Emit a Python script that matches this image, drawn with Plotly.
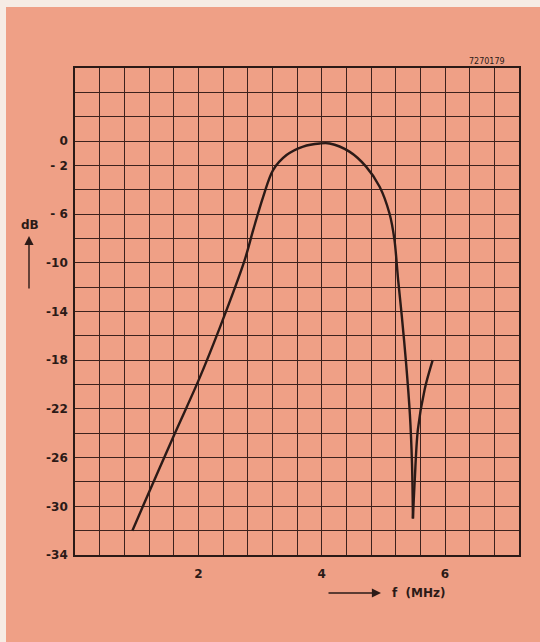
import plotly.graph_objects as go

# Data
freq_mhz = [0.93, 1.11, 1.62, 2.00, 2.35, 2.75, 2.89, 3.05, 3.21, 3.43, 3.70,
            3.97, 4.13, 4.45, 4.72, 4.94, 5.10, 5.18, 5.24, 5.30, 5.37,
            5.43, 5.465, 5.48,
            5.51, 5.56, 5.67, 5.80]
gain_db = [-32.0, -29.9, -24.0, -19.7, -15.3, -9.8, -7.3, -4.6, -2.4, -1.15, -0.45,
           -0.2, -0.2, -0.87, -2.1, -3.75, -5.95, -8.1, -11.4, -14.4, -18.3,
           -22.4, -26.5, -31.0,
           -27.8, -23.7, -20.4, -18.0]
notch_index = 23  # index of the notch minimum
y_tick_vals = [0, -2, -6, -10, -14, -18, -22, -26, -30, -34]
y_tick_text = ["0", "- 2", "- 6", "-10", "-14", "-18", "-22", "-26", "-30", "-34"]
x_tick_vals = [2, 4, 6]
x_tick_text = ["2", "4", "6"]

BG = "#EFA086"
INK = "#2b1a17"
GRID = "#3d221d"
FONT = "DejaVu Sans"

fig = go.Figure()
for xs, ys in [(freq_mhz[:notch_index + 1], gain_db[:notch_index + 1]),
               (freq_mhz[notch_index:], gain_db[notch_index:])]:
    fig.add_trace(go.Scatter(
        x=xs, y=ys, mode="lines",
        line=dict(color=INK, width=2.4, shape="spline", smoothing=0.9),
        hoverinfo="skip", showlegend=False,
    ))

fig.update_layout(
    width=540, height=642,
    margin=dict(l=75, r=21, t=68, b=87),
    paper_bgcolor=BG, plot_bgcolor=BG,
    showlegend=False,
    font=dict(family=FONT, color=INK, size=12),
)

fig.update_xaxes(
    range=[0, 7.2], tickvals=x_tick_vals, ticktext=x_tick_text,
    showgrid=True, gridcolor=GRID, gridwidth=1,
    minor=dict(tick0=0, dtick=0.4, showgrid=True, gridcolor=GRID, gridwidth=1),
    showline=True, linecolor=INK, linewidth=1.6, mirror=True,
    zeroline=False, ticks="", ticklabelstandoff=7,
    tickfont=dict(family=FONT, size=12, color=INK, weight="bold"),
    fixedrange=True,
)
fig.update_yaxes(
    range=[-34, 6], tickvals=y_tick_vals, ticktext=y_tick_text,
    showgrid=True, gridcolor=GRID, gridwidth=1,
    minor=dict(tick0=0, dtick=2, showgrid=True, gridcolor=GRID, gridwidth=1),
    showline=True, linecolor=INK, linewidth=1.6, mirror=True,
    zeroline=False, ticks="", ticklabelstandoff=3,
    tickfont=dict(family=FONT, size=12, color=INK, weight="bold"),
    fixedrange=True,
)

def px(xp):
    return (xp - 75) / 444.0

def py(yp):
    return (555 - yp) / 487.0

# Off-white paper edges (left and top)
fig.add_shape(type="rect", xref="paper", yref="paper",
              x0=px(0), x1=px(6), y0=py(642), y1=py(0),
              fillcolor="#f6ece4", line_width=0, layer="below")
fig.add_shape(type="rect", xref="paper", yref="paper",
              x0=px(0), x1=px(540), y0=py(7), y1=py(0),
              fillcolor="#f6ece4", line_width=0, layer="below")

# dB label with upward arrow
fig.add_annotation(xref="paper", yref="paper", x=px(30), y=py(225),
                   xanchor="center", yanchor="middle",
                   text="<b>dB</b>", showarrow=False,
                   font=dict(family=FONT, size=12, color=INK))
fig.add_annotation(xref="paper", yref="paper", x=px(29), y=py(236),
                   ax=0, ay=54, text="", showarrow=True,
                   arrowhead=2, arrowsize=1.3, arrowwidth=1.4, arrowcolor=INK)

# f (MHz) label with right arrow
fig.add_annotation(xref="paper", yref="paper", x=px(381), y=py(593),
                   ax=-54, ay=0, text="", showarrow=True,
                   arrowhead=2, arrowsize=1.3, arrowwidth=1.4, arrowcolor=INK)
fig.add_annotation(xref="paper", yref="paper", x=px(390), y=py(593),
                   xanchor="left", yanchor="middle",
                   text="<b>f  (MHz)</b>", showarrow=False,
                   font=dict(family=FONT, size=12, color=INK))

# Figure reference number
fig.add_annotation(xref="paper", yref="paper", x=px(507), y=py(62),
                   xanchor="right", yanchor="middle",
                   text="7270179", showarrow=False,
                   font=dict(family=FONT, size=8, color=INK))

fig.write_html("out.html",
               config={"displayModeBar": False},
               post_script="document.body.style.margin='0';document.body.style.overflow='hidden';")
